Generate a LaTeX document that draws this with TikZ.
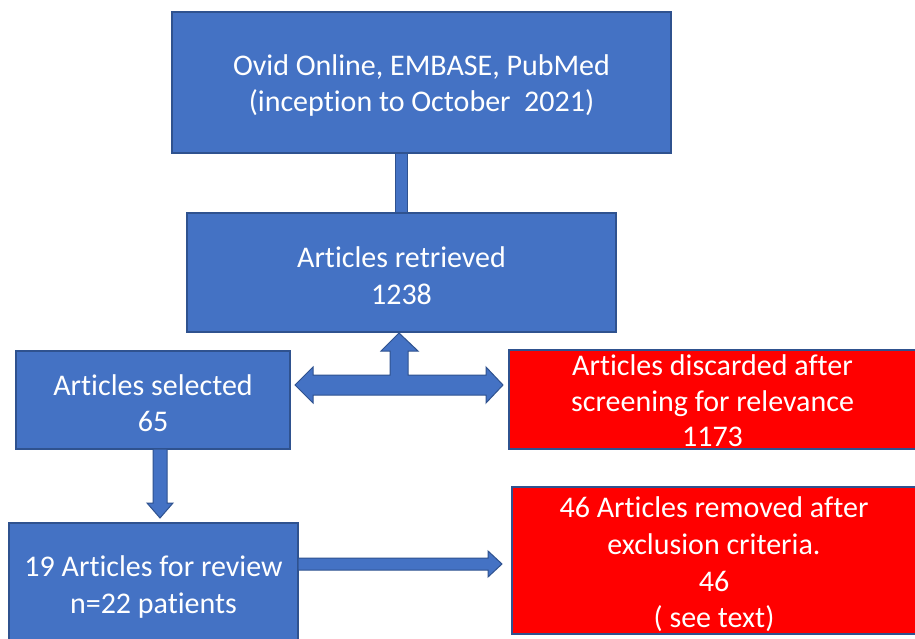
\documentclass[tikz,border=0pt]{standalone}
\usepackage{fontspec}
\setmainfont[Ligatures={NoCommon}]{Carlito}
\definecolor{boxblue}{HTML}{4472C4}
\definecolor{edgeblue}{HTML}{2F528F}
\definecolor{boxred}{HTML}{FF0000}
\begin{document}
\begin{tikzpicture}[x=1pt,y=-1pt,
  flowbox/.style={draw=edgeblue, line width=1.2pt, fill=boxblue, inner sep=0pt},
  redbox/.style={flowbox, fill=boxred},
  boxtext/.style={text=white, align=center, inner sep=0pt, yshift=-3pt,
    font=\fontsize{30}{36.6}\selectfont},
  blockarrow/.style={draw=edgeblue, line width=1pt, fill=boxblue, line join=miter}]
\clip (0,0) rectangle (915,639);
\fill[white] (0,0) rectangle (915,639);
% boxes
\node[flowbox, minimum width=499pt, minimum height=141pt] (src) at (421.5,82.5) {};
\node[boxtext] (srct) at (src.center) {Ovid Online, EMBASE, PubMed\\(inception to October\ \ 2021)};
\node[flowbox, minimum width=429pt, minimum height=119pt] (ret) at (401.5,272.5) {};
\node[boxtext] (rett) at (ret.center) {Articles retrieved\\1238};
\node[flowbox, minimum width=274pt, minimum height=98pt] (sel) at (153,400) {};
\node[boxtext] (selt) at (sel.center) {Articles selected\\65};
\node[redbox, minimum width=407pt, minimum height=99pt] (disc) at (712.5,399.5) {};
\node[boxtext, yshift=1.5pt, font=\fontsize{30}{35.5}\selectfont] (disct) at (disc.center) {Articles discarded after\\screening for relevance\\1173};
\node[flowbox, minimum width=289pt, minimum height=118pt] (rev) at (153.5,582) {};
\node[boxtext, yshift=-2pt] (revt) at (rev.center) {19 Articles for review\\n=22 patients};
\node[redbox, minimum width=404pt, minimum height=147pt] (rem) at (714,560.5) {};
\node[boxtext, yshift=-1pt] (remt) at (rem.center) {46 Articles removed after\\exclusion criteria.\\46\\( see text)};
% connector bar between top boxes
\draw[blockarrow] (src.south -| 395,0) rectangle (ret.north -| 407,0);
% T-shaped arrow
\draw[blockarrow] (399,333) -- (418,351) -- (408,351) -- (408,375) -- (486,375) -- (486,367)
  -- (503,385) -- (486,403) -- (486,395) -- (313,395) -- (313,403) -- (295,385)
  -- (313,367) -- (313,375) -- (390,375) -- (390,351) -- (381,351) -- cycle;
% down arrow
\draw[blockarrow] (153,449) -- (167,449) -- (167,503) -- (173,503) -- (160,518)
  -- (147,503) -- (153,503) -- cycle;
% right arrow
\draw[blockarrow] (298,558) -- (488,558) -- (488,551) -- (502,564) -- (488,577)
  -- (488,570) -- (298,570) -- cycle;
\end{tikzpicture}
\end{document}
